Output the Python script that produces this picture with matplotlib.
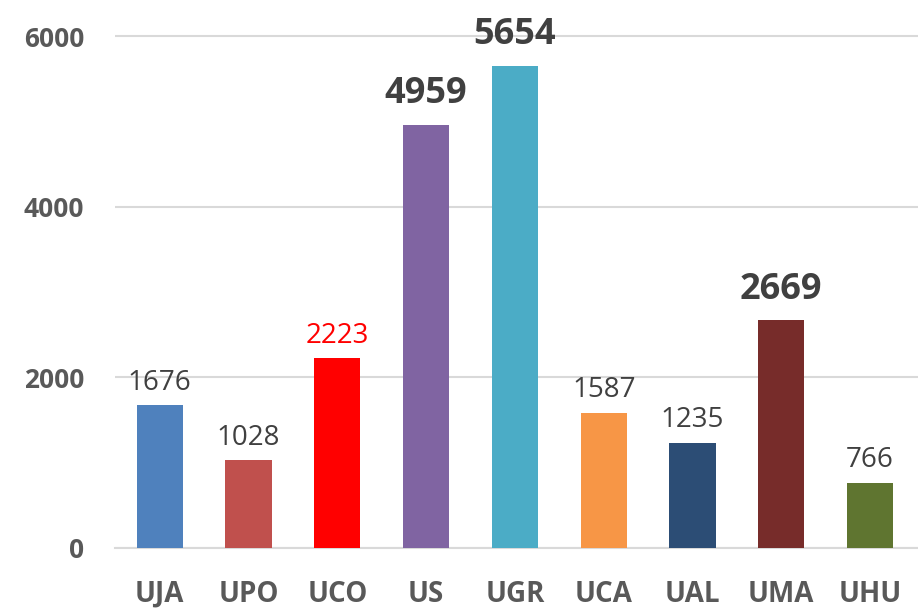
import matplotlib.pyplot as plt

# data
universities = ["UJA", "UPO", "UCO", "US", "UGR", "UCA", "UAL", "UMA", "UHU"]
counts = [1676, 1028, 2223, 4959, 5654, 1587, 1235, 2669, 766]
bar_colors = ["#4F81BD", "#C0504D", "#FF0000", "#8064A2", "#4BACC6",
              "#F79646", "#2C4D75", "#772C2A", "#5F7530"]
highlight = {"US", "UGR", "UMA"}
yticks = [0, 2000, 4000, 6000]

plt.rcParams["font.family"] = ["Open Sans", "DejaVu Sans"]

fig = plt.figure(figsize=(9.18, 6.08), dpi=100)
ax = fig.add_axes([0.125, 0.0987, 0.875, 0.884])

x = range(len(universities))
ax.bar(x, counts, width=0.52, color=bar_colors, zorder=3)

for i, (u, v) in enumerate(zip(universities, counts)):
    if u in highlight:
        ax.annotate(str(v), (i, v), xytext=(0, 9), textcoords="offset points",
                    ha="center", va="bottom", fontsize=26, fontweight="bold",
                    color="#404040")
    else:
        ax.annotate(str(v), (i, v), xytext=(0, 6), textcoords="offset points",
                    ha="center", va="bottom", fontsize=20,
                    color="#FF0000" if u == "UCO" else "#404040")

ax.set_xlim(-0.507, 8.54)
ax.set_ylim(0, 6300)
ax.set_yticks(yticks)
ax.set_yticklabels([str(t) for t in yticks])
ax.set_xticks(list(x))
ax.set_xticklabels(universities)
ax.tick_params(axis="y", length=0, pad=22, labelsize=19, labelcolor="#595959")
ax.tick_params(axis="x", length=0, pad=23, labelsize=20, labelcolor="#595959")
for lab in ax.get_xticklabels() + ax.get_yticklabels():
    lab.set_fontweight("bold")

ax.grid(axis="y", color="#D9D9D9", linewidth=1.5, zorder=0)
for s in ["top", "right", "left"]:
    ax.spines[s].set_visible(False)
ax.spines["bottom"].set_color("#D9D9D9")
ax.spines["bottom"].set_linewidth(1.5)

fig.savefig("out.png", dpi=100)
